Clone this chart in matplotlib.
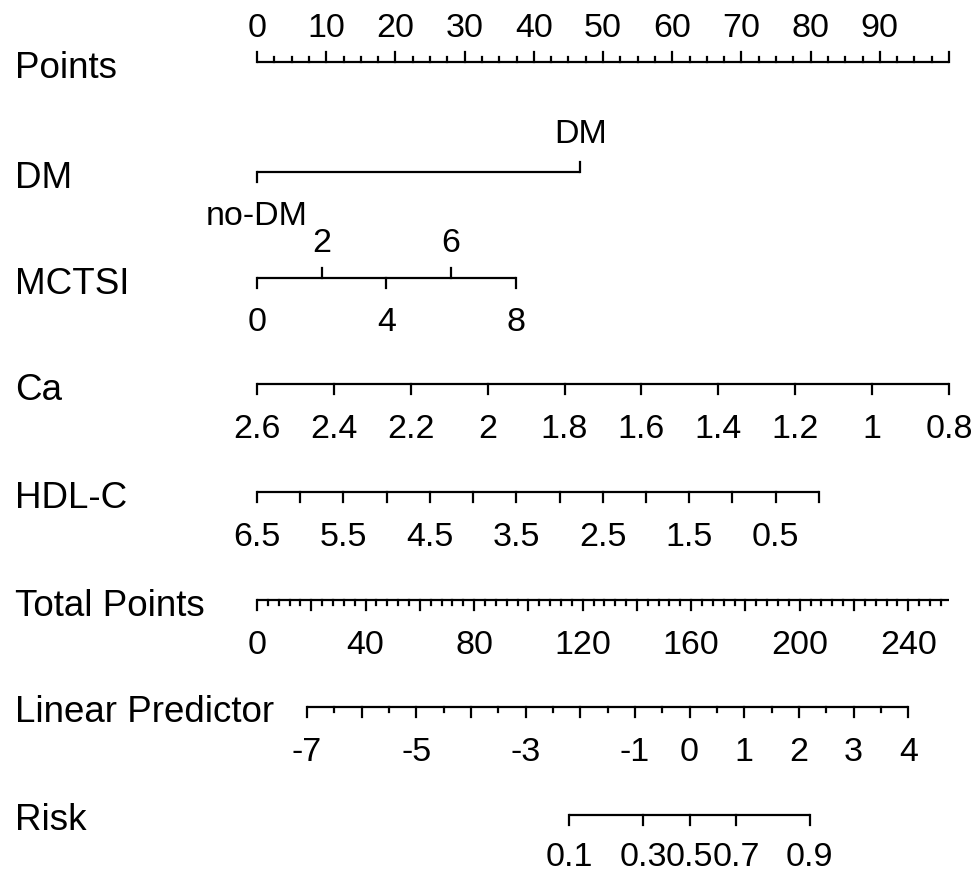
import numpy as np
import matplotlib
matplotlib.use("Agg")
import matplotlib.pyplot as plt

plt.rcParams['font.family'] = ['Liberation Sans', 'DejaVu Sans']

# ---- nomogram data ----
points_max = 100
dm_levels = ["no-DM", "DM"]
dm_points = [0, 46.7]

mctsi_vals = [0, 2, 4, 6, 8]
mctsi_points_per_unit = 37.4 / 8

ca_vals = [2.6, 2.4, 2.2, 2.0, 1.8, 1.6, 1.4, 1.2, 1.0, 0.8]
ca_labels = ["2.6", "2.4", "2.2", "2", "1.8", "1.6", "1.4", "1.2", "1", "0.8"]
ca_range = (2.6, 0.8)      # 0 pts .. 100 pts

hdl_ticks = [6.5, 6.0, 5.5, 5.0, 4.5, 4.0, 3.5, 3.0, 2.5, 2.0, 1.5, 1.0, 0.5, 0.0]
hdl_labels = ["6.5", "5.5", "4.5", "3.5", "2.5", "1.5", "0.5"]
hdl_max_points = 81.2      # points at HDL-C = 0

total_max = 255
total_labels = [0, 40, 80, 120, 160, 200, 240]

lp_at_total = (18.4, 240)  # total points where lp = -7 and lp = 4
lp_range = (-7, 4)
lp_labels = [-7, -5, -3, -1, 0, 1, 2, 3, 4]

risk_vals = [0.1, 0.3, 0.5, 0.7, 0.9]

# ---- layout ----
px_per_point = 6.92
x0_px = 257
rows = {"Points": 62, "DM": 172, "MCTSI": 278, "Ca": 384, "HDL-C": 492,
        "Total Points": 600, "Linear Predictor": 707, "Risk": 815}
big, small = 10, 5
lab_fs, tick_fs = 26.5, 24.5
lw = 1.6
below_gap = 30

fig = plt.figure(figsize=(9.74, 8.75), dpi=100)
ax = fig.add_axes([0, 0, 1, 1])
ax.set_xlim(-x0_px / px_per_point, (974 - x0_px) / px_per_point)
ax.set_ylim(875, 0)
ax.axis("off")


def total_to_pts(t):
    return np.asarray(t, dtype=float) * points_max / total_max


def lp_to_total(lp):
    a, b = lp_at_total
    return a + (np.asarray(lp, dtype=float) - lp_range[0]) * (b - a) / (lp_range[1] - lp_range[0])


def axis_line(y, x_start, x_end):
    ax.plot([x_start, x_end], [y, y], color="black", lw=lw, solid_capstyle="butt")


def ticks(y, xs, length, up=False):
    for x in np.atleast_1d(xs):
        ax.plot([x, x], [y, y - length if up else y + length], color="black", lw=lw)


def labels(y, xs, texts, up=False, gap=below_gap):
    for x, t in zip(np.atleast_1d(xs), texts):
        if up:
            ax.text(x, y - gap, t, ha="center", va="bottom", fontsize=tick_fs)
        else:
            ax.text(x, y + gap, t, ha="center", va="top", fontsize=tick_fs)


for name, y in rows.items():
    ax.text(-x0_px / px_per_point + 15 / px_per_point, y + 6, name,
            ha="left", va="center", fontsize=lab_fs)

# Points
y = rows["Points"]
axis_line(y, 0, points_max)
ticks(y, np.arange(0, 101, 10), big, up=True)
ticks(y, [v for v in np.arange(0, 100.1, 2.5) if v % 10], small, up=True)
labels(y, np.arange(0, 91, 10), [str(v) for v in range(0, 91, 10)], up=True, gap=18)

# DM
y = rows["DM"]
axis_line(y, dm_points[0], dm_points[1])
ticks(y, [dm_points[0]], big)
ticks(y, [dm_points[1]], big, up=True)
labels(y, [dm_points[0]], [dm_levels[0]], gap=29)
labels(y, [dm_points[1]], [dm_levels[1]], up=True, gap=22)

# MCTSI
y = rows["MCTSI"]
mx = np.array(mctsi_vals) * mctsi_points_per_unit
axis_line(y, mx[0], mx[-1])
ticks(y, mx[::2], big)
ticks(y, mx[1::2], big, up=True)
labels(y, mx[::2], [str(v) for v in mctsi_vals[::2]], gap=29)
labels(y, mx[1::2], [str(v) for v in mctsi_vals[1::2]], up=True, gap=19)

# Ca
y = rows["Ca"]
cx = (ca_range[0] - np.array(ca_vals)) / (ca_range[0] - ca_range[1]) * points_max
axis_line(y, cx[0], cx[-1])
ticks(y, cx, big)
labels(y, cx, ca_labels)

# HDL-C
y = rows["HDL-C"]
hx = (6.5 - np.array(hdl_ticks)) / 6.5 * hdl_max_points
axis_line(y, hx[0], hx[-1])
ticks(y, hx, big)
hl = (6.5 - np.array([float(v) for v in hdl_labels])) / 6.5 * hdl_max_points
labels(y, hl, hdl_labels)

# Total Points
y = rows["Total Points"]
axis_line(y, 0, total_to_pts(total_max))
ticks(y, total_to_pts(np.arange(0, total_max + 1, 20)), big)
ticks(y, total_to_pts([v for v in np.arange(0, total_max + 1, 4) if v % 20]), small)
labels(y, total_to_pts(total_labels), [str(v) for v in total_labels])

# Linear Predictor
y = rows["Linear Predictor"]
lx = total_to_pts(lp_to_total(np.arange(-7, 4.01, 0.5)))
axis_line(y, lx[0], lx[-1])
ticks(y, lx[::2], big)
ticks(y, lx[1::2], small)
labels(y, total_to_pts(lp_to_total(lp_labels)), [str(v) for v in lp_labels])

# Risk
y = rows["Risk"]
rv = np.array(risk_vals)
rx = total_to_pts(lp_to_total(np.log(rv / (1 - rv))))
axis_line(y, rx[0], rx[-1])
ticks(y, rx, big)
labels(y, rx, [str(v) for v in risk_vals], gap=27)

fig.savefig("out.png", dpi=100)
